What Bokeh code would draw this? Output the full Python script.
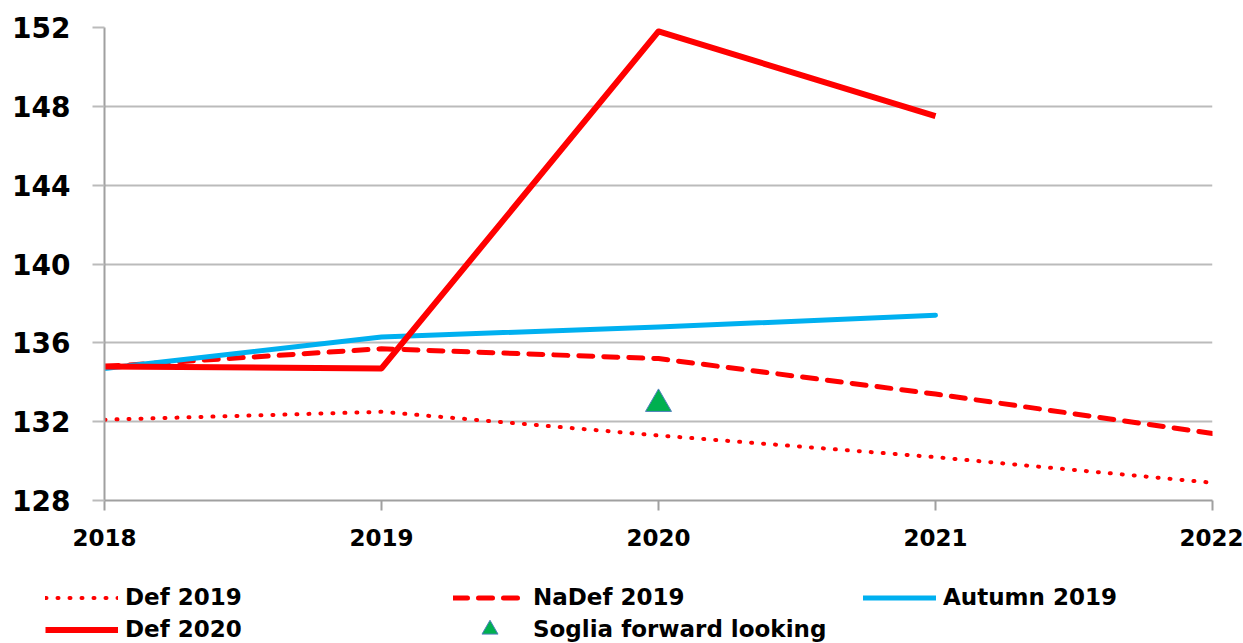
from bokeh.plotting import figure
from bokeh.models import Range1d, FixedTicker, Legend, LegendItem
from bokeh.layouts import column
from bokeh.embed import file_html
from bokeh.resources import INLINE

years = [2018, 2019, 2020, 2021, 2022]
years_short = [2018, 2019, 2020, 2021]
def_2019 = [132.1, 132.5, 131.3, 130.2, 128.9]
nadef_2019 = [134.8, 135.7, 135.2, 133.4, 131.4]
autumn_2019 = [134.7, 136.3, 136.8, 137.4]
def_2020 = [134.8, 134.7, 151.8, 147.5]
soglia_year = [2020]
soglia = [132.9]
y_ticks = [128, 132, 136, 140, 144, 148, 152]

RED = "#FF0000"
BLUE = "#00B0F0"
FONT = "DejaVu Sans"

STYLES = {
    "Def 2019": dict(line_color=RED, line_width=4, line_dash="1 11", line_cap="round"),
    "NaDef 2019": dict(line_color=RED, line_width=5, line_dash="14 11", line_cap="round"),
    "Autumn 2019": dict(line_color=BLUE, line_width=5, line_join="round", line_cap="round"),
    "Def 2020": dict(line_color=RED, line_width=6, line_join="round"),
}
TRI = dict(marker="triangle", fill_color="#00B050", line_color="#4F81BD", line_width=1)

p = figure(width=1243, height=553, output_backend="svg", toolbar_location=None,
           x_range=Range1d(2018, 2022), y_range=Range1d(128, 152),
           min_border_left=104, min_border_right=31, min_border_top=27,
           min_border_bottom=53)
p.outline_line_color = None
p.frame_align = False

p.line(years, def_2019, **STYLES["Def 2019"])
p.line(years, nadef_2019, **STYLES["NaDef 2019"])
p.line(years_short, autumn_2019, **STYLES["Autumn 2019"])
p.line(years_short, def_2020, **STYLES["Def 2020"])
p.scatter(soglia_year, soglia, size=26, **TRI)

p.xgrid.visible = False
p.ygrid.grid_line_color = "#BBBBBB"
p.ygrid.grid_line_width = 2

for ax in (p.xaxis[0], p.yaxis[0]):
    ax.axis_line_color = "#A0A0A0"
    ax.axis_line_width = 2
    ax.major_tick_line_color = "#A0A0A0"
    ax.major_tick_line_width = 2
    ax.minor_tick_line_color = None
    ax.major_tick_in = 0
    ax.major_label_text_font = FONT
    ax.major_label_text_font_style = "bold"
    ax.major_label_text_color = "black"

p.xaxis.ticker = FixedTicker(ticks=years)
p.xaxis.major_tick_out = 10
p.xaxis.major_label_standoff = 18
p.xaxis.major_label_text_font_size = "23px"

p.yaxis.ticker = FixedTicker(ticks=y_ticks)
p.yaxis.major_tick_out = 12
p.yaxis.major_tick_line_color = "#BBBBBB"
p.yaxis.major_label_standoff = 22
p.yaxis.major_label_text_font_size = "28px"

# legend strip below the chart
lf = figure(width=1243, height=90, output_backend="svg", toolbar_location=None,
            x_range=Range1d(0, 1), y_range=Range1d(0, 1),
            x_axis_type=None, y_axis_type=None, min_border=0)
lf.outline_line_color = None
lf.grid.visible = False
lf.frame_align = False

NAN = float("nan")
lr = {k: lf.line([NAN], [NAN], **v) for k, v in STYLES.items()}
lr["Soglia forward looking"] = lf.scatter([NAN], [NAN], **TRI)


def make_legend(labels, loc, gh=27, spacing=5):
    lg = Legend(items=[LegendItem(label=l, renderers=[lr[l]]) for l in labels],
                location=loc, orientation="vertical",
                margin=0, padding=0, spacing=spacing,
                glyph_width=73, glyph_height=gh, label_height=gh,
                label_standoff=7,
                label_text_font=FONT, label_text_font_style="bold",
                label_text_font_size="23px", label_text_color="black",
                border_line_alpha=0, background_fill_alpha=0)
    lf.add_layout(lg, "center")


make_legend(["Def 2019", "Def 2020"], (45, 0.5))
make_legend(["NaDef 2019"], (453, 32.5))
make_legend(["Soglia forward looking"], (453, -6), gh=40)
make_legend(["Autumn 2019"], (863, 32.5))

layout = column(p, lf, spacing=0)
open("out.html", "w").write(file_html(layout, INLINE))
